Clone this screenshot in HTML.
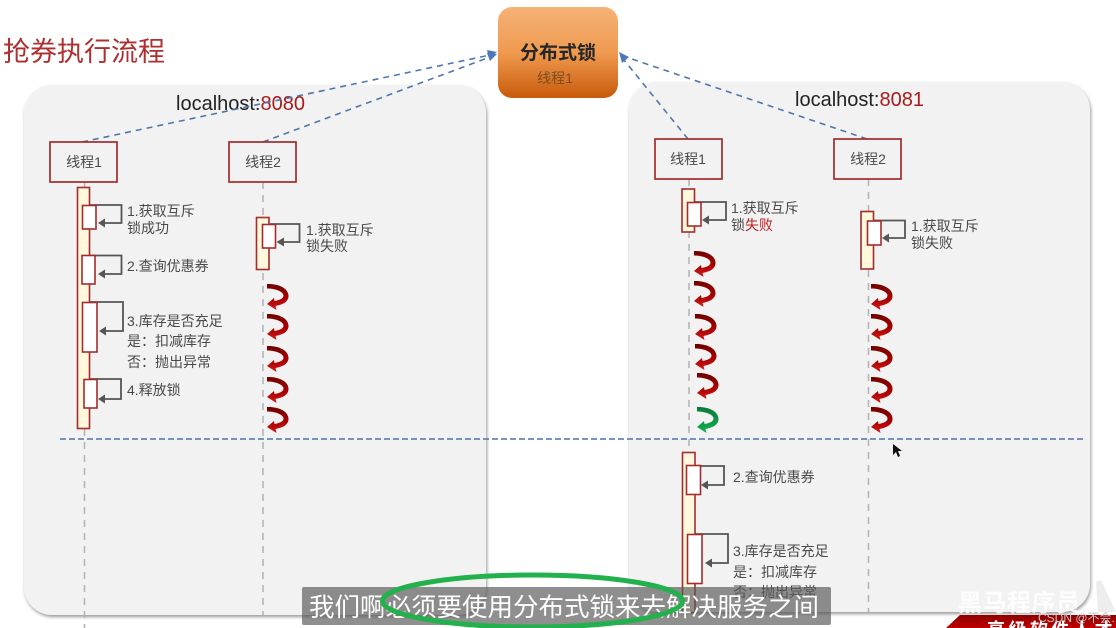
<!DOCTYPE html>
<html lang="zh">
<head>
<meta charset="utf-8">
<title>抢券执行流程</title>
<style>
html,body{margin:0;padding:0;background:#fff;width:1116px;height:628px;overflow:hidden}
svg{display:block;font-family:"Liberation Sans","Noto Sans CJK SC",sans-serif;filter:blur(.35px)}
.lb{font-size:14px;fill:#4a4a4a}
.ac{font-size:14px;fill:#4a4a4a;text-anchor:middle}
.box{fill:#f2f2f2;stroke:#a32c2c;stroke-width:1.7}
.outer{fill:#fff8dc;stroke:#a32c2c;stroke-width:1.6}
.inner{fill:#fff;stroke:#a32c2c;stroke-width:1.6}
.life{stroke:#b5b5b5;stroke-width:1.6;stroke-dasharray:7 6;fill:none}
.loop{fill:none;stroke:#555;stroke-width:1.8}
.tip{fill:#555}
.blue{stroke:#4f77ad;stroke-width:1.6;stroke-dasharray:6 5;fill:none}
.host{font-size:20px;fill:#222}
.host tspan{fill:#a61c1c}
</style>
</head>
<body>
<svg width="1116" height="628" viewBox="0 0 1116 628" xmlns="http://www.w3.org/2000/svg">
<defs>
<linearGradient id="og" x1="0" y1="0" x2="0" y2="1">
<stop offset="0" stop-color="#f6b277"/><stop offset=".5" stop-color="#ef9a50"/><stop offset="1" stop-color="#c85a0a"/>
</linearGradient>
<linearGradient id="rg" x1="0" y1="0" x2="0" y2="1">
<stop offset="0" stop-color="#6f0000"/><stop offset=".55" stop-color="#a80000"/><stop offset="1" stop-color="#d01818"/>
</linearGradient>
<linearGradient id="gg" x1="0" y1="0" x2="0" y2="1">
<stop offset="0" stop-color="#0a7a3a"/><stop offset="1" stop-color="#12b04f"/>
</linearGradient>
<linearGradient id="ban" x1="0" y1="0" x2="0" y2="1">
<stop offset="0" stop-color="#8c0000"/><stop offset="1" stop-color="#c00000"/>
</linearGradient>
<filter id="sh" x="-5%" y="-5%" width="110%" height="110%">
<feDropShadow dx="1" dy="2" stdDeviation="1.6" flood-color="#555" flood-opacity=".6"/>
</filter>
<path id="c" d="M0,0 C11,-0.5 21.5,4 21.5,12 C21.5,18.5 14,21 8.5,22 L9.5,26 L0,20 L7,14 L7.5,17 C13,16 16.5,14.5 16.5,11.5 C16.5,7.5 8,4.5 0,4.5 Z"/>
</defs>

<rect width="1116" height="628" fill="#fff"/>

<!-- title -->
<text x="3" y="61" font-size="27" fill="#ad2f2f">抢券执行流程</text>

<!-- panels -->
<rect x="24" y="85" width="462" height="530" rx="28" fill="#f2f2f2" filter="url(#sh)"/>
<rect x="629" y="82" width="461" height="530" rx="28" fill="#f2f2f2" filter="url(#sh)"/>

<text class="host" x="176" y="110">localhost:<tspan>8080</tspan></text>
<text class="host" x="795" y="106">localhost:<tspan>8081</tspan></text>

<!-- lifelines -->
<line class="life" x1="84.5" y1="182" x2="84.5" y2="628"/>
<line class="life" x1="263" y1="182" x2="263" y2="615"/>
<line class="life" x1="689" y1="179" x2="689" y2="612"/>
<line class="life" x1="868.5" y1="179" x2="868.5" y2="612"/>

<!-- blue connectors -->
<line class="blue" x1="82" y1="142" x2="490" y2="55"/>
<line class="blue" x1="263" y1="142" x2="490" y2="57"/>
<line class="blue" x1="688" y1="139" x2="624" y2="60"/>
<line class="blue" x1="867" y1="139" x2="626" y2="57"/>
<polygon points="497,52 487,50 489,58" fill="#4a78b8"/>
<polygon points="497,54 487,53 490,61" fill="#4a78b8"/>
<polygon points="619,52 629,57 622,63" fill="#4a78b8"/>

<!-- lock box -->
<rect x="498" y="7" width="120" height="91" rx="14" fill="url(#og)"/>
<text x="558" y="59" font-size="19" font-weight="700" fill="#262626" text-anchor="middle">分布式锁</text>
<text x="555" y="83" font-size="14" fill="#7d4c22" text-anchor="middle">线程1</text>

<!-- actors -->
<rect class="box" x="50" y="142" width="67" height="40"/>
<text class="ac" x="84" y="167">线程1</text>
<rect class="box" x="229" y="142" width="67" height="40"/>
<text class="ac" x="263" y="167">线程2</text>
<rect class="box" x="655" y="139" width="67" height="40"/>
<text class="ac" x="688" y="164">线程1</text>
<rect class="box" x="834" y="139" width="67" height="40"/>
<text class="ac" x="868" y="164">线程2</text>

<!-- left thread 1 -->
<rect class="outer" x="77.5" y="187.5" width="12" height="241"/>
<path class="loop" d="M90,205 H121.5 V223 H103"/><polygon class="tip" points="98,223 105,218.5 105,227.5"/>
<rect class="inner" x="82.5" y="205.5" width="13.5" height="23.5"/>
<path class="loop" d="M90,255.5 H121.5 V274 H103"/><polygon class="tip" points="98,274 105,269.5 105,278.5"/>
<rect class="inner" x="82" y="255.5" width="13" height="28.5"/>
<path class="loop" d="M90,302 H123 V331 H105"/><polygon class="tip" points="99,331 106,326.5 106,335.5"/>
<rect class="inner" x="82.5" y="302.5" width="14.5" height="49.5"/>
<path class="loop" d="M90,379 H121 V399 H103"/><polygon class="tip" points="98,399 105,394.5 105,403.5"/>
<rect class="inner" x="84" y="379.5" width="13" height="28.5"/>
<text class="lb" x="127" y="216">1.获取互斥</text>
<text class="lb" x="127" y="233">锁成功</text>
<text class="lb" x="127" y="271">2.查询优惠券</text>
<text class="lb" x="127" y="326">3.库存是否充足</text>
<text class="lb" x="127" y="346">是：扣减库存</text>
<text class="lb" x="127" y="367">否：抛出异常</text>
<text class="lb" x="127" y="395">4.释放锁</text>

<!-- left thread 2 -->
<rect class="outer" x="256.5" y="217.5" width="12.5" height="52"/>
<path class="loop" d="M270,224 H299.5 V242 H282"/><polygon class="tip" points="276.5,242 284,237.5 284,246.5"/>
<rect class="inner" x="262.5" y="224.5" width="13" height="23.5"/>
<text class="lb" x="306" y="235">1.获取互斥</text>
<text class="lb" x="306" y="251">锁失败</text>

<!-- right thread 1 -->
<rect class="outer" x="682" y="189" width="12.5" height="43"/>
<path class="loop" d="M695,202 H726 V220 H708"/><polygon class="tip" points="702,220 709,215.5 709,224.5"/>
<rect class="inner" x="687.5" y="202.5" width="13.5" height="23.5"/>
<text class="lb" x="731" y="213">1.获取互斥</text>
<text class="lb" x="731" y="230">锁<tspan fill="#c01f1f">失败</tspan></text>

<!-- right thread 2 -->
<rect class="outer" x="861" y="211.5" width="12.5" height="57.5"/>
<path class="loop" d="M874,220.5 H905 V238 H888"/><polygon class="tip" points="882,238 889,233.5 889,242.5"/>
<rect class="inner" x="867.5" y="221" width="13.5" height="24"/>
<text class="lb" x="911" y="231">1.获取互斥</text>
<text class="lb" x="911" y="248">锁失败</text>

<!-- curved arrows -->
<g fill="url(#rg)">
<use href="#c" x="267" y="284"/><use href="#c" x="267" y="314"/><use href="#c" x="267" y="346"/><use href="#c" x="267" y="377"/><use href="#c" x="267" y="407"/>
<use href="#c" x="694" y="251"/><use href="#c" x="694" y="281"/><use href="#c" x="695" y="314"/><use href="#c" x="695" y="344"/><use href="#c" x="697" y="373"/>
<use href="#c" x="871" y="284"/><use href="#c" x="871" y="314"/><use href="#c" x="871" y="346"/><use href="#c" x="871" y="377"/><use href="#c" x="871" y="407"/>
</g>
<use href="#c" x="697" y="407" fill="url(#gg)"/>

<!-- divider -->
<line x1="60" y1="439" x2="1084" y2="439" stroke="#4a72aa" stroke-width="1.5" stroke-dasharray="6 3"/>

<!-- right lower -->
<rect class="outer" x="682.5" y="452.5" width="12.5" height="160"/>
<path class="loop" d="M695,466 H724 V485 H706"/><polygon class="tip" points="701,485 708,480.5 708,489.5"/>
<rect class="inner" x="686.5" y="465.5" width="14" height="29"/>
<path class="loop" d="M695,534 H728 V563 H710"/><polygon class="tip" points="705,563 712,558.5 712,567.5"/>
<rect class="inner" x="687.5" y="534.5" width="14.5" height="49"/>
<text class="lb" x="733" y="482">2.查询优惠券</text>
<text class="lb" x="733" y="556">3.库存是否充足</text>
<text class="lb" x="733" y="577">是：扣减库存</text>
<text class="lb" x="733" y="597">否：抛出异常</text>

<!-- cursor -->
<polygon points="893,444 893,455 896,452 898,457 900,456 898,451 902,451" fill="#111"/>

<!-- bottom-right logo -->
<polygon points="1098,612 1096,582 1101,580 1116,612" fill="#e6e6e6" opacity=".7"/>
<polygon points="946,628 960,615 1116,615 1116,628" fill="url(#ban)"/>
<text x="958" y="611" font-size="24" font-weight="700" fill="#fff" opacity=".85" textLength="122">黑马程序员</text>
<text x="987" y="636" font-size="18" font-weight="700" fill="#fff" letter-spacing="3.5">高级软件人才</text>
<text x="1038" y="622" font-size="12" fill="#c4c4c4">CSDN @不会...</text>

<!-- subtitle -->
<rect x="302" y="587" width="529" height="38" rx="2" fill="#5a5a5a" fill-opacity=".68"/>
<text x="309" y="616" font-size="25.5" fill="#fff">我们啊必须要使用分布式锁来去解决服务之间</text>

<!-- green ellipse -->
<ellipse cx="532.5" cy="601" rx="150" ry="26" fill="none" stroke="#22b14c" stroke-width="5"/>
</svg>
</body>
</html>
